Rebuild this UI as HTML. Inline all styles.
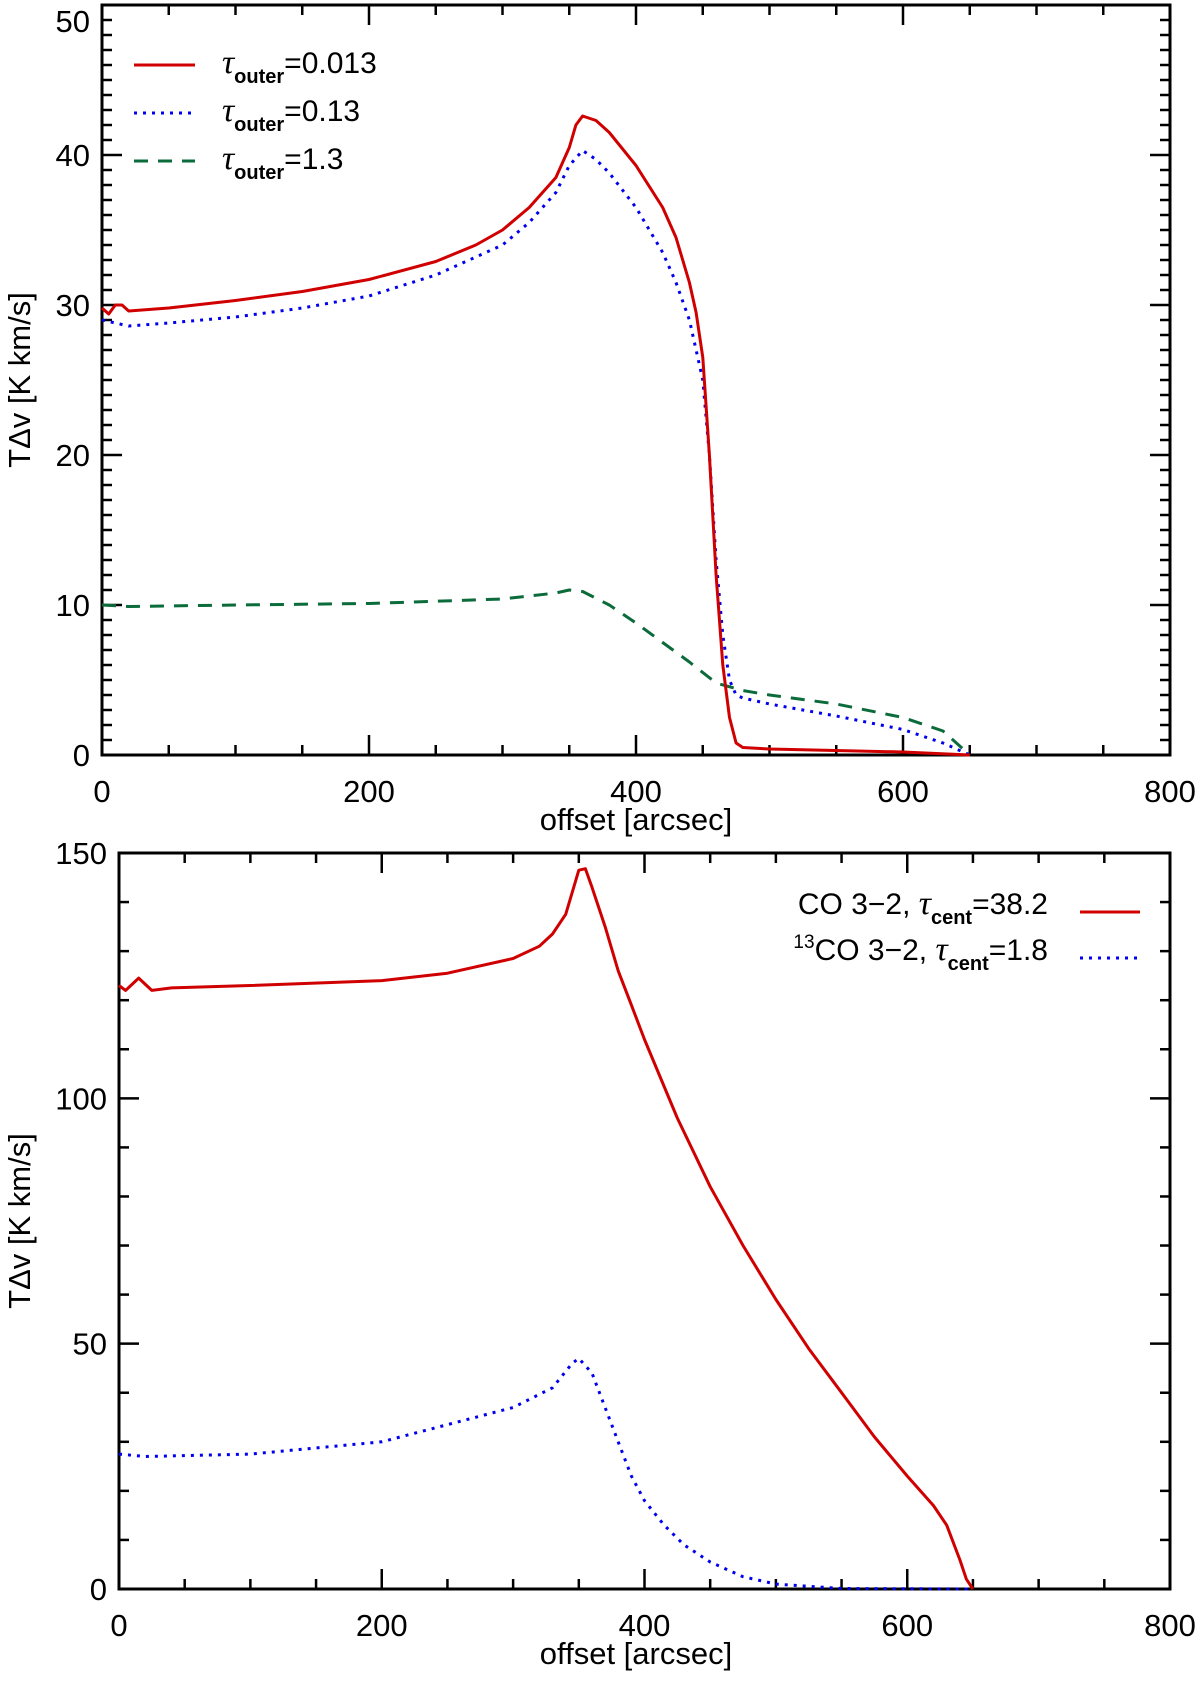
<!DOCTYPE html>
<html><head><meta charset="utf-8">
<style>
html,body{margin:0;padding:0;background:#fff;}
svg{display:block;font-family:"Liberation Sans","DejaVu Sans",sans-serif;}
</style></head>
<body>
<svg id="fig" width="1200" height="1683" viewBox="0 0 1200 1683">
<g id="top"></g>
<g id="bot"></g>
</svg>
<script>
// Top panel data
const topX1 = [0,5,10,15,20,50,100,150,200,250,280,300,320,340,350,355,360,370,380,400,420,430,440,445,450,455,460,465,470,475,480,500,600,650];
const topRed = [29.8,29.4,30,30,29.6,29.8,30.3,30.9,31.7,32.9,34,35,36.5,38.5,40.5,42,42.6,42.3,41.5,39.3,36.5,34.5,31.5,29.5,26.5,20,12,6,2.5,0.8,0.5,0.4,0.2,0];
const topX2 = [0,10,20,50,100,150,200,250,300,320,340,350,360,370,380,400,420,430,440,450,455,460,465,470,475,480,500,550,600,630,650];
const topBlue = [29,28.8,28.6,28.8,29.2,29.8,30.6,32,34,35.5,37.5,39.3,40.3,39.7,38.8,36.5,33.5,31.5,29,25,20,13,8,5,4,3.8,3.4,2.6,1.7,0.8,0];
const topX3 = [0,20,100,200,300,340,350,360,380,400,440,460,480,500,550,600,630,650];
const topGreen = [10,9.9,10,10.1,10.4,10.8,11,10.9,10,8.8,6.2,4.8,4.3,4,3.4,2.5,1.6,0];
const topXTicks = [0,200,400,600,800];
const topYTicks = [0,10,20,30,40,50];
// Bottom panel data
const botX1 = [0,5,15,25,40,100,200,250,300,320,330,340,350,355,360,370,380,390,400,425,450,475,500,525,550,575,600,620,630,640,645,650];
const botRed = [123,122,124.5,122,122.5,123,124,125.5,128.5,131,133.5,137.5,146.5,146.8,143,135,126,119,112,96,82,70,59,49,40,31,23,17,13,6,2,0];
const botX2 = [0,20,100,200,300,330,345,350,360,370,380,390,400,415,430,450,475,500,550,650];
const botBlue = [27.5,27,27.5,30,37,41,46,47,44,37,30,23,18,13,9,5.5,2.5,1,0.1,0];
const botXTicks = [0,200,400,600,800];
const botYTicks = [0,50,100,150];

const NS="http://www.w3.org/2000/svg";
function mk(parent,tag,attrs){const e=document.createElementNS(NS,tag);for(const k in attrs)e.setAttribute(k,attrs[k]);parent.appendChild(e);return e;}

function panel(g,L,R,T,B,xmax,ymax,xTicks,yTicks,xMinor,yMinor){
  const sx=v=>L+(v/xmax)*(R-L), sy=v=>B-(v/ymax)*(B-T);
  const frame=mk(g,'rect',{x:L,y:T,width:R-L,height:B-T,fill:'none',stroke:'#000','stroke-width':3});
  
  
  for(let v=0;v<=xmax+1e-9;v+=xMinor){
    const major=xTicks.includes(v);const len=major?20:10;
    const t1=mk(g,'line',{x1:sx(v),x2:sx(v),y1:B,y2:B-len,stroke:'#000','stroke-width':2.5});
    
    
    const t2=mk(g,'line',{x1:sx(v),x2:sx(v),y1:T,y2:T+len,stroke:'#000','stroke-width':2.5});
    
    
  }
  for(let v=0;v<=ymax+1e-9;v+=yMinor){
    const major=yTicks.some(t=>Math.abs(t-v)<1e-6);const len=major?20:10;
    const t1=mk(g,'line',{x1:L,x2:L+len,y1:sy(v),y2:sy(v),stroke:'#000','stroke-width':2.5});
    
    
    const t2=mk(g,'line',{x1:R,x2:R-len,y1:sy(v),y2:sy(v),stroke:'#000','stroke-width':2.5});
    
    
  }
  xTicks.forEach(v=>{
    const t=mk(g,'text',{x:sx(v),y:B+47,'text-anchor':'middle','font-size':31});
    t.textContent=v;
    
    
  });
  yTicks.forEach(v=>{
    let yy=sy(v)+11;
    if(yy<32) yy=32;
    const t=mk(g,'text',{x:L-12,y:yy,'text-anchor':'end','font-size':31});
    t.textContent=v;
    
    
  });
  return {sx,sy};
}
function series(g,xs,ys,ax,color,dash,name,w){
  const d=xs.map((x,i)=>(i?'L':'M')+ax.sx(x).toFixed(1)+','+ax.sy(ys[i]).toFixed(1)).join(' ');
  const p=mk(g,'path',{d:d,fill:'none',stroke:color,'stroke-width':w||3,'stroke-dasharray':dash||'none','stroke-linejoin':'round'});
  
  
}
function txt(g,x,y,html,attrs,name){
  const t=mk(g,'text',Object.assign({x:x,y:y,'font-size':30},attrs||{}));
  t.innerHTML=html;
  
  
  return t;
}

const gt=document.getElementById('top');
const a1=panel(gt,102,1170,5,755,800,50,topXTicks,topYTicks,50,1);
series(gt,topX3,topGreen,a1,'#0b6b3a','14,10','series-tau-1.3');
series(gt,topX2,topBlue,a1,'#0000ee','3,6','series-tau-0.13');
series(gt,topX1,topRed,a1,'#d00000','','series-tau-0.013');
txt(gt,636,830,'offset [arcsec]',{'text-anchor':'middle','font-size':31},'x-axis-title');
txt(gt,30,380,'TΔv [K km/s]',{'text-anchor':'middle','font-size':31,transform:'rotate(-90 30 380)'},'y-axis-title');
const legT=[['#d00000','','0.013',65],['#0000ee','3,6','0.13',113],['#0b6b3a','14,10','1.3',161]];
legT.forEach(l=>{
  const ln=mk(gt,'line',{x1:134,x2:195,y1:l[3],y2:l[3],stroke:l[0],'stroke-width':3,'stroke-dasharray':l[1]||'none'});
  
  
  txt(gt,222,l[3]+8,'<tspan font-style="italic" font-family="Liberation Serif, serif" font-size="34">τ</tspan><tspan dy="10" font-size="20" font-weight="bold">outer</tspan><tspan dy="-10">=' + l[2] + '</tspan>',{},'legend-entry');
});

const gb=document.getElementById('bot');
const a2=panel(gb,119,1170,853,1589,800,150,botXTicks,botYTicks,50,10);
series(gb,botX2,botBlue,a2,'#0000ee','3,6','series-13co');
series(gb,botX1,botRed,a2,'#d00000','','series-co');
txt(gb,636,1664,'offset [arcsec]',{'text-anchor':'middle','font-size':31},'x-axis-title-bottom');
txt(gb,30,1221,'TΔv [K km/s]',{'text-anchor':'middle','font-size':31,transform:'rotate(-90 30 1221)'},'y-axis-title-bottom');
const ln1=mk(gb,'line',{x1:1080,x2:1140,y1:912,y2:912,stroke:'#d00000','stroke-width':3});


const ln2=mk(gb,'line',{x1:1080,x2:1140,y1:958,y2:958,stroke:'#0000ee','stroke-width':3,'stroke-dasharray':'3,6'});


txt(gb,1048,914,'CO  3−2,  <tspan font-style="italic" font-family="Liberation Serif, serif" font-size="34">τ</tspan><tspan dy="10" font-size="20" font-weight="bold">cent</tspan><tspan dy="-10">=38.2</tspan>',{'text-anchor':'end','xml:space':'preserve'},'legend-entry-co');
txt(gb,1048,960,'<tspan dy="-12" font-size="19">13</tspan><tspan dy="12">CO  3−2,  </tspan><tspan font-style="italic" font-family="Liberation Serif, serif" font-size="34">τ</tspan><tspan dy="10" font-size="20" font-weight="bold">cent</tspan><tspan dy="-10">=1.8</tspan>',{'text-anchor':'end','xml:space':'preserve'},'legend-entry-13co');
</script>
</body></html>
